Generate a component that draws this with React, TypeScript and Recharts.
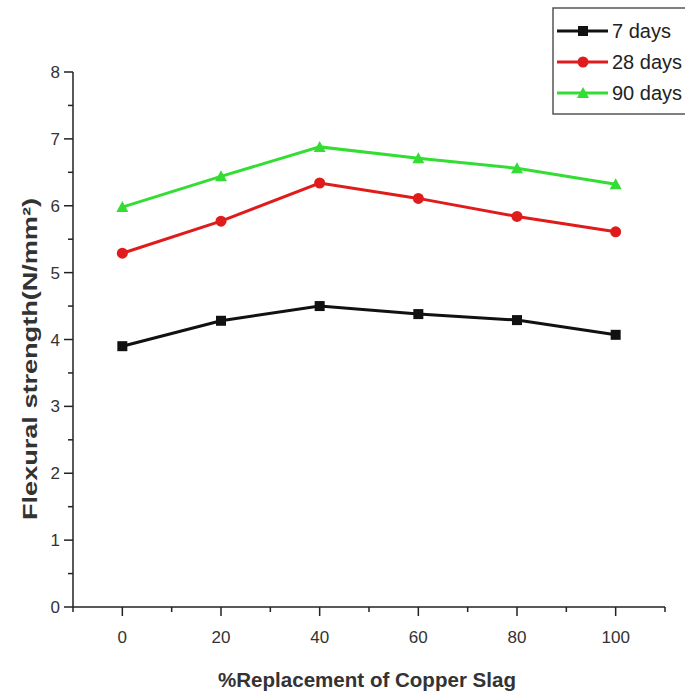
import { Line, LineChart, XAxis, YAxis } from "recharts";

const replacement = [0, 20, 40, 60, 80, 100];
const days7 = [3.9, 4.28, 4.5, 4.38, 4.29, 4.07];
const days28 = [5.29, 5.77, 6.34, 6.11, 5.84, 5.61];
const days90 = [5.98, 6.44, 6.88, 6.71, 6.56, 6.32];

const xTicks = [-10, 0, 10, 20, 30, 40, 50, 60, 70, 80, 90, 100, 110];
const yTicks = [0, 0.5, 1, 1.5, 2, 2.5, 3, 3.5, 4, 4.5, 5, 5.5, 6, 6.5, 7, 7.5, 8];

const BLACK = "#111111";
const RED = "#e01b1b";
const GREEN = "#33dd33";
const FONT = "'Liberation Sans', Arial, sans-serif";

const data = replacement.map((x, i) => ({ x, d7: days7[i], d28: days28[i], d90: days90[i] }));

const Square = (props: any) => {
  const { cx, cy } = props;
  if (cx == null || cy == null) return null;
  return <rect x={cx - 5} y={cy - 5} width={10} height={10} fill={BLACK} />;
};
const Circle = (props: any) => {
  const { cx, cy } = props;
  if (cx == null || cy == null) return null;
  return <circle cx={cx} cy={cy} r={5.5} fill={RED} />;
};
const Triangle = (props: any) => {
  const { cx, cy } = props;
  if (cx == null || cy == null) return null;
  return <polygon points={`${cx},${cy - 6} ${cx - 6},${cy + 5} ${cx + 6},${cy + 5}`} fill={GREEN} />;
};

const XTick = (props: any) => {
  const { x, y, payload } = props;
  const v = payload.value;
  const major = v % 20 === 0 && v >= 0 && v <= 100;
  return (
    <g>
      <line x1={x} x2={x} y1={y - 8} y2={y - 8 + (major ? 9 : 5)} stroke="#222" strokeWidth={1.5} />
      {major && (
        <text x={x} y={y + 28} textAnchor="middle" fontSize={17} fill="#333" fontFamily={FONT}>
          {v}
        </text>
      )}
    </g>
  );
};

const YTick = (props: any) => {
  const { x, y, payload } = props;
  const v = payload.value;
  const major = Number.isInteger(v);
  return (
    <g>
      <line x1={x + 8} x2={x + 8 - (major ? 9 : 5)} y1={y} y2={y} stroke="#222" strokeWidth={1.5} />
      {major && (
        <text x={x - 5} y={y + 6} textAnchor="end" fontSize={17} fill="#333" fontFamily={FONT}>
          {v}
        </text>
      )}
    </g>
  );
};

const legendItems = [
  { label: "7 days", color: BLACK, shape: "square" },
  { label: "28 days", color: RED, shape: "circle" },
  { label: "90 days", color: GREEN, shape: "triangle" },
];

const LegendBox = () => (
  <svg width={140} height={110} style={{ display: "block" }}>
    <rect x={1} y={1} width={150} height={106} fill="#fff" stroke="#555" strokeWidth={1.5} />
    {legendItems.map((it, i) => {
      const cy = 24 + i * 31;
      return (
        <g key={it.label}>
          <line x1={5} x2={56} y1={cy} y2={cy} stroke={it.color} strokeWidth={3} />
          {it.shape === "square" && <rect x={26} y={cy - 5} width={10} height={10} fill={it.color} />}
          {it.shape === "circle" && <circle cx={31} cy={cy} r={5.5} fill={it.color} />}
          {it.shape === "triangle" && (
            <polygon points={`31,${cy - 6} 25,${cy + 5} 37,${cy + 5}`} fill={it.color} />
          )}
          <text x={60} y={cy + 7} fontSize={20} fill="#222" fontFamily={FONT}>
            {it.label}
          </text>
        </g>
      );
    })}
  </svg>
);

export default function App() {
  return (
    <div style={{ position: "absolute", left: 0, top: 0, width: 685, height: 693, background: "#fff", overflow: "hidden" }}>
      <LineChart width={685} height={693} data={data} margin={{ top: 72, right: 20, bottom: 46, left: 13 }}>
        <XAxis
          dataKey="x"
          type="number"
          domain={[-10, 110]}
          ticks={xTicks}
          interval={0}
          tick={<XTick />}
          tickLine={false}
          axisLine={{ stroke: "#222", strokeWidth: 1.5 }}
          height={40}
          label={{
            content: () => (
              <text
                x={218}
                y={687}
                fontSize={20}
                fontWeight="bold"
                fill="#333"
                fontFamily={FONT}
                textLength={298}
                lengthAdjust="spacingAndGlyphs"
              >
                %Replacement of Copper Slag
              </text>
            ),
          }}
        />
        <YAxis
          type="number"
          domain={[0, 8]}
          ticks={yTicks}
          interval={0}
          tick={<YTick />}
          tickLine={false}
          axisLine={{ stroke: "#222", strokeWidth: 1.5 }}
          width={60}
          label={{
            content: () => (
              <text
                x={0}
                y={0}
                transform="translate(37,520) rotate(-90)"
                fontSize={20}
                fontWeight="bold"
                fill="#333"
                fontFamily={FONT}
                textLength={322}
                lengthAdjust="spacingAndGlyphs"
              >
                Flexural strength(N/mm²)
              </text>
            ),
          }}
        />
        <Line dataKey="d7" name="7 days" stroke={BLACK} strokeWidth={3} dot={<Square />} isAnimationActive={false} />
        <Line dataKey="d28" name="28 days" stroke={RED} strokeWidth={3} dot={<Circle />} isAnimationActive={false} />
        <Line dataKey="d90" name="90 days" stroke={GREEN} strokeWidth={3} dot={<Triangle />} isAnimationActive={false} />
      </LineChart>
      <div style={{ position: "absolute", left: 552, top: 7 }}>
        <LegendBox />
      </div>
    </div>
  );
}
